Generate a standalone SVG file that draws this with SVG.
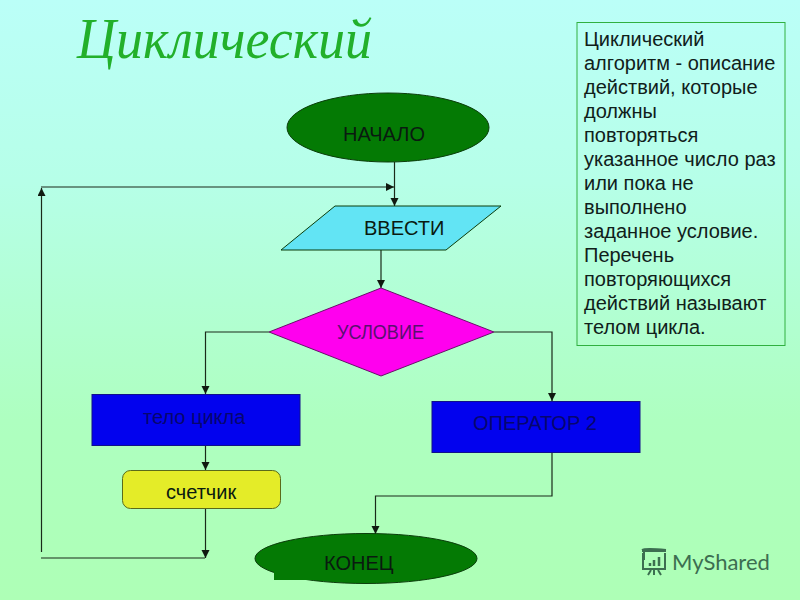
<svg xmlns="http://www.w3.org/2000/svg" width="800" height="600" viewBox="0 0 800 600">
<style>
.lbl{font-family:"Liberation Sans",Arial,sans-serif;font-size:20px;fill:#0a1a10}
.node{stroke:#0b3d0b;stroke-width:1}
.conn{fill:none;stroke:#1a2a1a;stroke-width:1.2}
</style>
<defs>
<linearGradient id="bg" x1="0" y1="0" x2="0" y2="1"><stop offset="0" stop-color="#bbfff8"/><stop offset="0.3" stop-color="#b6ffe8"/><stop offset="0.7" stop-color="#aeffc0"/><stop offset="1" stop-color="#aeffb6"/></linearGradient>
<marker id="arr" markerUnits="userSpaceOnUse" markerWidth="9" markerHeight="9" refX="8" refY="4" orient="auto"><path d="M0 0L8 4L0 8Z" fill="#101a10"/></marker>
</defs>
<rect width="800" height="600" fill="url(#bg)"/>
<text x="77" y="58" font-family="'Liberation Serif',serif" font-style="italic" font-size="56" fill="#22b02a" textLength="295" lengthAdjust="spacingAndGlyphs">Циклический</text>
<g id="connectors" class="conn">
<path d="M394.500 162V206" marker-end="url(#arr)"/>
<path d="M41 187H394" marker-end="url(#arr)"/>
<path d="M381 250V288" marker-end="url(#arr)"/>
<path d="M269 332H205.500V394" marker-end="url(#arr)"/>
<path d="M494 332H552V401" marker-end="url(#arr)"/>
<path d="M205.500 445V470" marker-end="url(#arr)"/>
<path d="M205.500 509V558" marker-end="url(#arr)"/>
<path d="M205 558H41"/>
<path d="M41.500 552V188" marker-end="url(#arr)"/>
<path d="M552 452V496H375.500V534" marker-end="url(#arr)"/>
</g>
<g id="start"><ellipse class="node" cx="388" cy="127.500" rx="101" ry="34.500" fill="#047a04"/><text class="lbl" x="343" y="141">НАЧАЛО</text></g>
<g id="input"><polygon class="node" points="335,206 501,206 446,250 281,250" fill="#62e4f4"/><text class="lbl" x="364" y="235">ВВЕСТИ</text></g>
<g id="condition"><polygon points="381,288 494,332 381,376 269,332" fill="#ff00ee" stroke="#6a106a"/><text class="lbl" x="337" y="339" textLength="87" lengthAdjust="spacingAndGlyphs" style="fill:#5a1070">УСЛОВИЕ</text></g>
<g id="body"><rect class="node" x="92" y="394.500" width="208" height="51" fill="#0202ee" style="stroke:#10108a"/><text class="lbl" x="143" y="424" style="fill:#06066e">тело цикла</text></g>
<g id="counter"><rect x="122.500" y="470.500" width="158" height="38" rx="8" fill="#e4ec28" stroke="#5a6a1a"/><text class="lbl" x="166" y="499">счетчик</text></g>
<g id="operator2"><rect class="node" x="432" y="401.500" width="208" height="51" fill="#0202ee" style="stroke:#10108a"/><text class="lbl" x="473" y="430" style="fill:#06066e">ОПЕРАТОР 2</text></g>
<g id="end"><ellipse class="node" cx="366" cy="558.500" rx="111" ry="25" fill="#047a04"/><rect x="274" y="572" width="40" height="8" fill="#047a04"/><text class="lbl" x="324" y="570">КОНЕЦ</text></g>
<g id="note"><rect x="577" y="22.500" width="208" height="323" fill="none" stroke="#30b040"/>
<text class="lbl" style="fill:#10201a"><tspan x="584" y="46">Циклический</tspan><tspan x="584" y="70">алгоритм - описание</tspan><tspan x="584" y="94">действий, которые</tspan><tspan x="584" y="118">должны</tspan><tspan x="584" y="142">повторяться</tspan><tspan x="584" y="166">указанное число раз</tspan><tspan x="584" y="190">или пока не</tspan><tspan x="584" y="214">выполнено</tspan><tspan x="584" y="238">заданное условие.</tspan><tspan x="584" y="262">Перечень</tspan><tspan x="584" y="286">повторяющихся</tspan><tspan x="584" y="310">действий называют</tspan><tspan x="584" y="334">телом цикла.</tspan></text></g>
<g id="logo" fill="none" stroke="#3c6e50" stroke-width="2"><path d="M642 551H666M643 553V569H665V553M644 550V560M651 570L648 575M654 570V575M658 570L661 575"/><path d="M642 550Q645 548 666 550"/><path d="M650 566V563M654 566V560M659 566V557" stroke-width="2.500"/><text x="672" y="570" font-family="Lato,'Noto Sans',sans-serif" font-size="22" fill="#3c6e50" stroke="none">MyShared</text></g>
</svg>
